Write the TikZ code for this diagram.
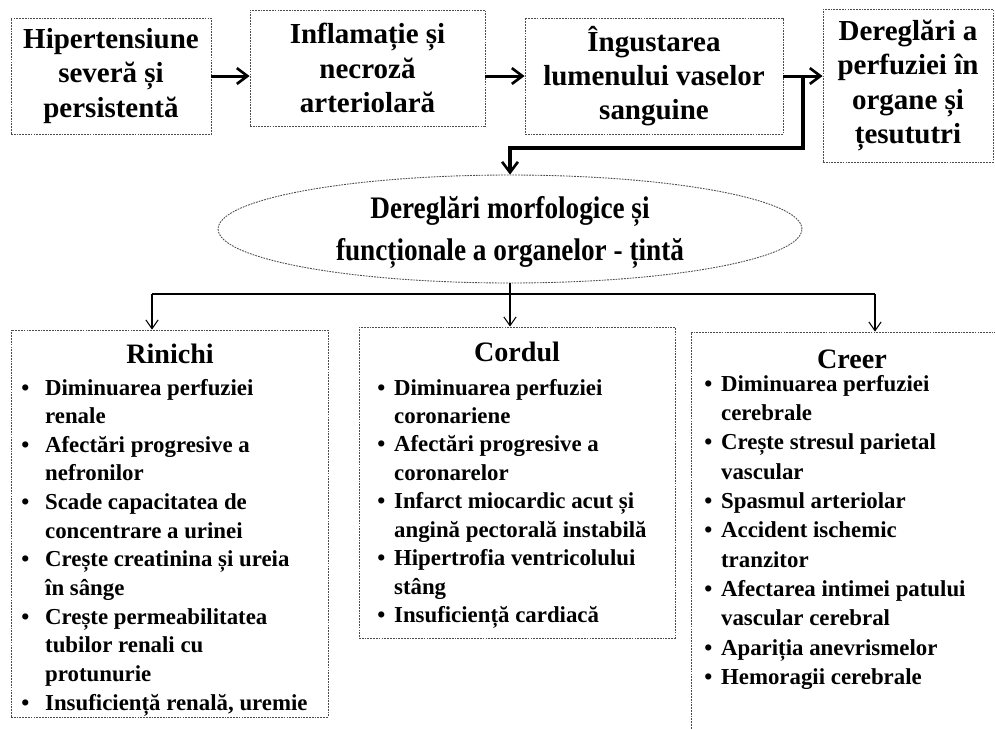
\documentclass[tikz,border=0pt]{standalone}
\usepackage{fontspec}
\setmainfont{Liberation Serif}
\usepackage{tikz}
\usetikzlibrary{arrows.meta,calc,positioning,shapes.geometric}
\tikzset{%
	block/.style    = {draw=black!70, dash pattern=on 1pt off 0.6pt, line width=0.5pt, rectangle, inner sep=0pt, align=center, font=\fontsize{16.5}{19.5}\selectfont\bfseries},
	organ/.style    = {draw=black!70, dash pattern=on 1pt off 0.6pt, line width=0.5pt, rectangle, inner sep=0pt}, % Organ box
	target/.style   = {draw=black!70, dash pattern=on 1pt off 0.6pt, line width=0.5pt, ellipse, inner sep=0pt, minimum width=11.68cm, minimum height=2.16cm},
	tlabel/.style   = {inner sep=0pt, font=\fontsize{15.5}{21}\selectfont\bfseries}, % Ellipse text
	title/.style    = {inner sep=0pt, font=\fontsize{16}{19}\selectfont\bfseries}, % Organ name
	list/.style     = {inner sep=0pt, anchor=base west, font=\fontsize{13}{16.3}\selectfont\bfseries},
	waypoint/.style = {coordinate},
}
\tikzset{%
	bigarrow/.style = {line width=1.7pt, -{Straight Barb[length=6pt,width=9pt,line width=1.5pt]}},
	bigline/.style  = {line width=2.3pt, -{Straight Barb[length=6pt,width=9pt,line width=1.5pt]}},
	arrow/.style    = {line width=0.6pt, -{Straight Barb[length=5pt,width=7pt]}},
}

\begin{document}
\begin{tikzpicture}[x=0.02cm,y=-0.02cm]
	\useasboundingbox (0,0) rectangle (995,728);
	\clip (0,0) rectangle (995,728);
	\node [block, minimum width=4cm, minimum height=2.32cm] (H) at (111,76) {Hipertensiune\\severă și\\persistentă};
	\node [block, minimum width=4.7cm, minimum height=2.32cm] (I) at (367.5,68) {Inflamație și\\necroză\\arteriolară};
	\node [block, minimum width=5.16cm, minimum height=2.32cm] (N) at (654,76) {Îngustarea\\lumenului vaselor\\sanguine};
	\node [block, minimum width=3.4cm, minimum height=3.06cm] (P) at (908,85.5) {Dereglări a\\perfuziei în\\organe și\\țesututri};
	\node [target] (T) at (510,229) {};
	\node [tlabel] (Tl) at (510,231) {\scalebox{1}[1.15]{\begin{tabular}{@{}c@{}}Dereglări morfologice și\\funcționale a organelor - țintă\end{tabular}}};
	\node [waypoint] (J) at (803,148) {};
	
	\draw [bigarrow] (H.east) -- (H.east -| I.west);
	\draw [bigarrow] (I.east |- N.west) -- (N.west);
	\draw [bigarrow] (N.east) -- (N.east -| P.west);
	\draw [bigline] (J |- N.east) -- (J) -| (T.north);
	
	% target organs
	\node [organ, minimum width=6.34cm, minimum height=7.74cm] (R) at (169.5,523.5) {};
	\node [organ, minimum width=6.32cm, minimum height=6.22cm] (C) at (517,482.5) {};
	\node [organ, minimum width=6.44cm, minimum height=8.8cm] (K) at (852,552) {};
	\node [waypoint] (B1) at (152,294) {};
	\node [waypoint] (B3) at (875,294) {};
	
	\draw [line width=0.9pt] (B1) -- (B3);
	\draw [arrow] (T.south) -- (T.south |- C.north);
	\draw [arrow] (B1) -- (B1 |- R.north);
	\draw [arrow] (B3) -- (B3 |- K.north);
	
	\node [title] (Rt) at (170,354) {Rinichi};
	\node [title] (Ct) at (517,352) {Cordul};
	\node [title] (Kt) at (852,359) {Creer};
	\node [list] (Rl) at (21,395) {\begin{tabular}[t]{@{}c@{\hspace{9pt}}l@{}}
		\textbullet & Diminuarea perfuziei\\ & renale\\
		\textbullet & Afectări progresive a\\ & nefronilor\\
		\textbullet & Scade capacitatea de\\ & concentrare a urinei\\
		\textbullet & Crește creatinina și ureia\\ & în sânge\\
		\textbullet & Crește permeabilitatea\\ & tubilor renali cu\\ & protunurie\\
		\textbullet & Insuficiență renală, uremie
	\end{tabular}};
	\node [list, font=\fontsize{13}{16.2}\selectfont\bfseries] (Cl) at (377,395) {\begin{tabular}[t]{@{}c@{\hspace{5pt}}l@{}}
		\textbullet & Diminuarea perfuziei\\ & coronariene\\
		\textbullet & Afectări progresive a\\ & coronarelor\\
		\textbullet & Infarct miocardic acut și\\ & angină pectorală instabilă\\
		\textbullet & Hipertrofia ventricolului\\ & stâng\\
		\textbullet & Insuficiență cardiacă
	\end{tabular}};
	\node [list, font=\fontsize{13}{16.7}\selectfont\bfseries] (Kl) at (704,391) {\begin{tabular}[t]{@{}c@{\hspace{5pt}}l@{}}
		\textbullet & Diminuarea perfuziei\\ & cerebrale\\
		\textbullet & Crește stresul parietal\\ & vascular\\
		\textbullet & Spasmul arteriolar\\
		\textbullet & Accident ischemic\\ & tranzitor\\
		\textbullet & Afectarea intimei patului\\ & vascular cerebral\\
		\textbullet & Apariția anevrismelor\\
		\textbullet & Hemoragii cerebrale
	\end{tabular}};
\end{tikzpicture}
\end{document}
